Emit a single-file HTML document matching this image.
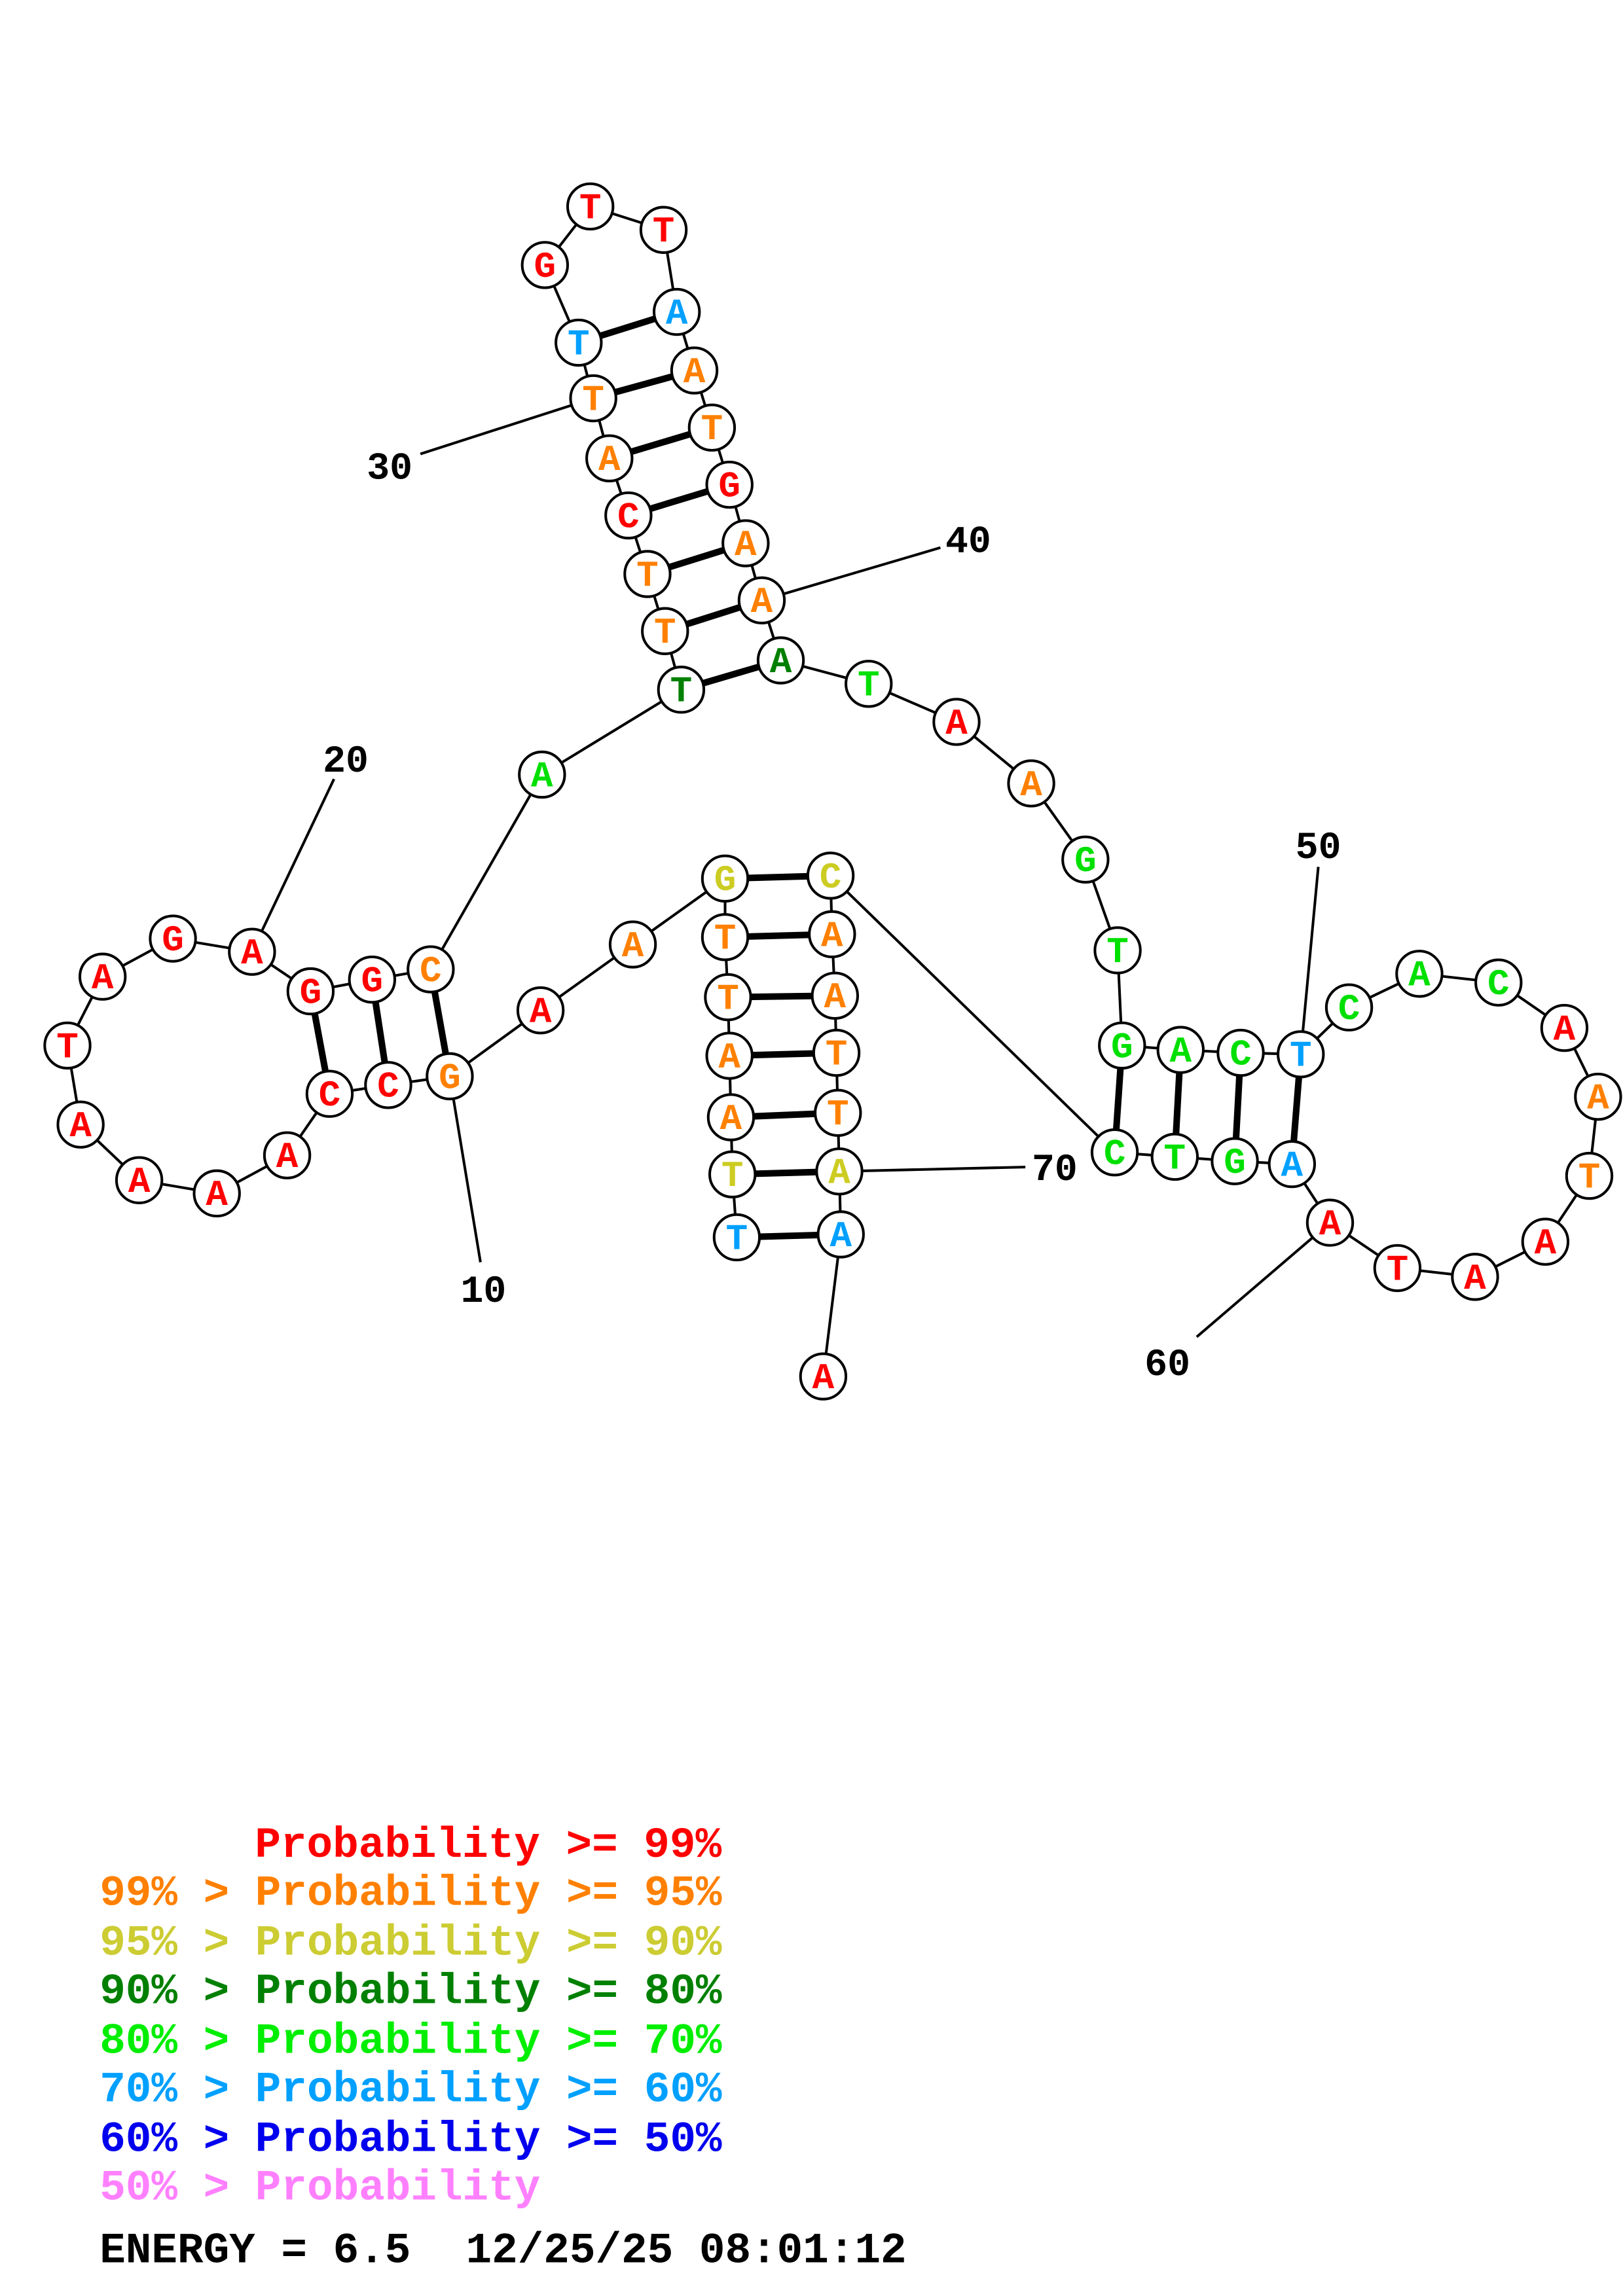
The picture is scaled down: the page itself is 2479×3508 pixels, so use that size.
<!DOCTYPE html>
<html><head><meta charset="utf-8"><style>
html,body{margin:0;padding:0;background:#fff;}
svg{display:block;}
.n{font-family:"Liberation Mono",monospace;font-weight:bold;font-size:25px;text-anchor:middle;}
.l{font-family:"Liberation Mono",monospace;font-weight:bold;font-size:29.5px;}
.num{font-family:"Liberation Mono",monospace;font-weight:bold;font-size:26px;text-anchor:middle;}
</style></head><body>
<svg width="2479" height="3508" viewBox="0 0 1108 1568" xmlns="http://www.w3.org/2000/svg">
<g stroke="#000" stroke-width="1.8" fill="none">
<polyline points="503,845 500,802 499,763 498,721 497,681 495,640 495,600 432,645 369,690 307,735 265,741 225,747 196,789 148,815 95,806 55,768 46,714 70,667 118,641 172,650 212,677 254,669 294,662 370,529 465,471 454,431 442,392 429,352 416,313 405,272 395,234 372,181 403,141 453,157 462,213 474,253 486,292 498,331 509,371 520,410 533,451 593,467 653,493 704,535 741,587 763,649 766,714 806,717 847,719 888,720 921,688 969,665 1023,671 1068,702 1091,749 1085,803 1055,848 1007,872 954,866 908,835 882,795 843,793 802,790 761,787 567,598 568,638 570,680 571,719 572,760 573,800 574,843 562,940"/>
<line x1="307" y1="735" x2="328" y2="862"/>
<line x1="172" y1="650" x2="228" y2="532"/>
<line x1="405" y1="272" x2="287" y2="310"/>
<line x1="520" y1="410" x2="642" y2="374"/>
<line x1="888" y1="720" x2="900" y2="592"/>
<line x1="908" y1="835" x2="817" y2="913"/>
<line x1="573" y1="800" x2="700" y2="797"/>
</g>
<g stroke="#000" stroke-width="4.5">
<line x1="503" y1="845" x2="574" y2="843"/>
<line x1="500" y1="802" x2="573" y2="800"/>
<line x1="499" y1="763" x2="572" y2="760"/>
<line x1="498" y1="721" x2="571" y2="719"/>
<line x1="497" y1="681" x2="570" y2="680"/>
<line x1="495" y1="640" x2="568" y2="638"/>
<line x1="495" y1="600" x2="567" y2="598"/>
<line x1="212" y1="677" x2="225" y2="747"/>
<line x1="254" y1="669" x2="265" y2="741"/>
<line x1="294" y1="662" x2="307" y2="735"/>
<line x1="465" y1="471" x2="533" y2="451"/>
<line x1="454" y1="431" x2="520" y2="410"/>
<line x1="442" y1="392" x2="509" y2="371"/>
<line x1="429" y1="352" x2="498" y2="331"/>
<line x1="416" y1="313" x2="486" y2="292"/>
<line x1="405" y1="272" x2="474" y2="253"/>
<line x1="395" y1="234" x2="462" y2="213"/>
<line x1="766" y1="714" x2="761" y2="787"/>
<line x1="806" y1="717" x2="802" y2="790"/>
<line x1="847" y1="719" x2="843" y2="793"/>
<line x1="888" y1="720" x2="882" y2="795"/>
</g>
<g fill="#fff" stroke="#000" stroke-width="1.8">
<circle cx="503" cy="845" r="15.5"/><circle cx="500" cy="802" r="15.5"/><circle cx="499" cy="763" r="15.5"/><circle cx="498" cy="721" r="15.5"/><circle cx="497" cy="681" r="15.5"/><circle cx="495" cy="640" r="15.5"/><circle cx="495" cy="600" r="15.5"/><circle cx="432" cy="645" r="15.5"/><circle cx="369" cy="690" r="15.5"/><circle cx="307" cy="735" r="15.5"/><circle cx="265" cy="741" r="15.5"/><circle cx="225" cy="747" r="15.5"/><circle cx="196" cy="789" r="15.5"/><circle cx="148" cy="815" r="15.5"/><circle cx="95" cy="806" r="15.5"/><circle cx="55" cy="768" r="15.5"/><circle cx="46" cy="714" r="15.5"/><circle cx="70" cy="667" r="15.5"/><circle cx="118" cy="641" r="15.5"/><circle cx="172" cy="650" r="15.5"/><circle cx="212" cy="677" r="15.5"/><circle cx="254" cy="669" r="15.5"/><circle cx="294" cy="662" r="15.5"/><circle cx="370" cy="529" r="15.5"/><circle cx="465" cy="471" r="15.5"/><circle cx="454" cy="431" r="15.5"/><circle cx="442" cy="392" r="15.5"/><circle cx="429" cy="352" r="15.5"/><circle cx="416" cy="313" r="15.5"/><circle cx="405" cy="272" r="15.5"/><circle cx="395" cy="234" r="15.5"/><circle cx="372" cy="181" r="15.5"/><circle cx="403" cy="141" r="15.5"/><circle cx="453" cy="157" r="15.5"/><circle cx="462" cy="213" r="15.5"/><circle cx="474" cy="253" r="15.5"/><circle cx="486" cy="292" r="15.5"/><circle cx="498" cy="331" r="15.5"/><circle cx="509" cy="371" r="15.5"/><circle cx="520" cy="410" r="15.5"/><circle cx="533" cy="451" r="15.5"/><circle cx="593" cy="467" r="15.5"/><circle cx="653" cy="493" r="15.5"/><circle cx="704" cy="535" r="15.5"/><circle cx="741" cy="587" r="15.5"/><circle cx="763" cy="649" r="15.5"/><circle cx="766" cy="714" r="15.5"/><circle cx="806" cy="717" r="15.5"/><circle cx="847" cy="719" r="15.5"/><circle cx="888" cy="720" r="15.5"/><circle cx="921" cy="688" r="15.5"/><circle cx="969" cy="665" r="15.5"/><circle cx="1023" cy="671" r="15.5"/><circle cx="1068" cy="702" r="15.5"/><circle cx="1091" cy="749" r="15.5"/><circle cx="1085" cy="803" r="15.5"/><circle cx="1055" cy="848" r="15.5"/><circle cx="1007" cy="872" r="15.5"/><circle cx="954" cy="866" r="15.5"/><circle cx="908" cy="835" r="15.5"/><circle cx="882" cy="795" r="15.5"/><circle cx="843" cy="793" r="15.5"/><circle cx="802" cy="790" r="15.5"/><circle cx="761" cy="787" r="15.5"/><circle cx="567" cy="598" r="15.5"/><circle cx="568" cy="638" r="15.5"/><circle cx="570" cy="680" r="15.5"/><circle cx="571" cy="719" r="15.5"/><circle cx="572" cy="760" r="15.5"/><circle cx="573" cy="800" r="15.5"/><circle cx="574" cy="843" r="15.5"/><circle cx="562" cy="940" r="15.5"/>
</g>
<g class="n" transform="translate(0,8)">
<text x="503" y="845" fill="#00a0ff">T</text>
<text x="500" y="802" fill="#cccc22">T</text>
<text x="499" y="763" fill="#ff8000">A</text>
<text x="498" y="721" fill="#ff8000">A</text>
<text x="497" y="681" fill="#ff8000">T</text>
<text x="495" y="640" fill="#ff8000">T</text>
<text x="495" y="600" fill="#cccc22">G</text>
<text x="432" y="645" fill="#ff8000">A</text>
<text x="369" y="690" fill="#ff0000">A</text>
<text x="307" y="735" fill="#ff8000">G</text>
<text x="265" y="741" fill="#ff0000">C</text>
<text x="225" y="747" fill="#ff0000">C</text>
<text x="196" y="789" fill="#ff0000">A</text>
<text x="148" y="815" fill="#ff0000">A</text>
<text x="95" y="806" fill="#ff0000">A</text>
<text x="55" y="768" fill="#ff0000">A</text>
<text x="46" y="714" fill="#ff0000">T</text>
<text x="70" y="667" fill="#ff0000">A</text>
<text x="118" y="641" fill="#ff0000">G</text>
<text x="172" y="650" fill="#ff0000">A</text>
<text x="212" y="677" fill="#ff0000">G</text>
<text x="254" y="669" fill="#ff0000">G</text>
<text x="294" y="662" fill="#ff8000">C</text>
<text x="370" y="529" fill="#00e000">A</text>
<text x="465" y="471" fill="#008000">T</text>
<text x="454" y="431" fill="#ff8000">T</text>
<text x="442" y="392" fill="#ff8000">T</text>
<text x="429" y="352" fill="#ff0000">C</text>
<text x="416" y="313" fill="#ff8000">A</text>
<text x="405" y="272" fill="#ff8000">T</text>
<text x="395" y="234" fill="#00a0ff">T</text>
<text x="372" y="181" fill="#ff0000">G</text>
<text x="403" y="141" fill="#ff0000">T</text>
<text x="453" y="157" fill="#ff0000">T</text>
<text x="462" y="213" fill="#00a0ff">A</text>
<text x="474" y="253" fill="#ff8000">A</text>
<text x="486" y="292" fill="#ff8000">T</text>
<text x="498" y="331" fill="#ff0000">G</text>
<text x="509" y="371" fill="#ff8000">A</text>
<text x="520" y="410" fill="#ff8000">A</text>
<text x="533" y="451" fill="#008000">A</text>
<text x="593" y="467" fill="#00e000">T</text>
<text x="653" y="493" fill="#ff0000">A</text>
<text x="704" y="535" fill="#ff8000">A</text>
<text x="741" y="587" fill="#00e000">G</text>
<text x="763" y="649" fill="#00e000">T</text>
<text x="766" y="714" fill="#00e000">G</text>
<text x="806" y="717" fill="#00e000">A</text>
<text x="847" y="719" fill="#00e000">C</text>
<text x="888" y="720" fill="#00a0ff">T</text>
<text x="921" y="688" fill="#00e000">C</text>
<text x="969" y="665" fill="#00e000">A</text>
<text x="1023" y="671" fill="#00e000">C</text>
<text x="1068" y="702" fill="#ff0000">A</text>
<text x="1091" y="749" fill="#ff8000">A</text>
<text x="1085" y="803" fill="#ff8000">T</text>
<text x="1055" y="848" fill="#ff0000">A</text>
<text x="1007" y="872" fill="#ff0000">A</text>
<text x="954" y="866" fill="#ff0000">T</text>
<text x="908" y="835" fill="#ff0000">A</text>
<text x="882" y="795" fill="#00a0ff">A</text>
<text x="843" y="793" fill="#00e000">G</text>
<text x="802" y="790" fill="#00e000">T</text>
<text x="761" y="787" fill="#00e000">C</text>
<text x="567" y="598" fill="#cccc22">C</text>
<text x="568" y="638" fill="#ff8000">A</text>
<text x="570" y="680" fill="#ff8000">A</text>
<text x="571" y="719" fill="#ff8000">T</text>
<text x="572" y="760" fill="#ff8000">T</text>
<text x="573" y="800" fill="#cccc22">A</text>
<text x="574" y="843" fill="#00a0ff">A</text>
<text x="562" y="940" fill="#ff0000">A</text>
</g>
<g class="num" fill="#000">
<text x="330" y="889">10</text>
<text x="236" y="527">20</text>
<text x="266" y="327">30</text>
<text x="661" y="377">40</text>
<text x="900" y="586">50</text>
<text x="797" y="939">60</text>
<text x="720" y="806">70</text>
</g>
<g class="l">
<text x="174" y="1268" fill="#ff0000">Probability &gt;= 99%</text>
<text x="68" y="1301" fill="#ff8000">99% &gt; Probability &gt;= 95%</text>
<text x="68" y="1335" fill="#cccc33">95% &gt; Probability &gt;= 90%</text>
<text x="68" y="1368" fill="#008000">90% &gt; Probability &gt;= 80%</text>
<text x="68" y="1402" fill="#00ee00">80% &gt; Probability &gt;= 70%</text>
<text x="68" y="1435" fill="#00a0ff">70% &gt; Probability &gt;= 60%</text>
<text x="68" y="1469" fill="#0000ee">60% &gt; Probability &gt;= 50%</text>
<text x="68" y="1502" fill="#ff80ff">50% &gt; Probability</text>
<text x="68" y="1545" fill="#000">ENERGY = 6.5</text>
<text x="318" y="1545" fill="#000">12/25/25 08:01:12</text>
</g>
</svg>
</body></html>
